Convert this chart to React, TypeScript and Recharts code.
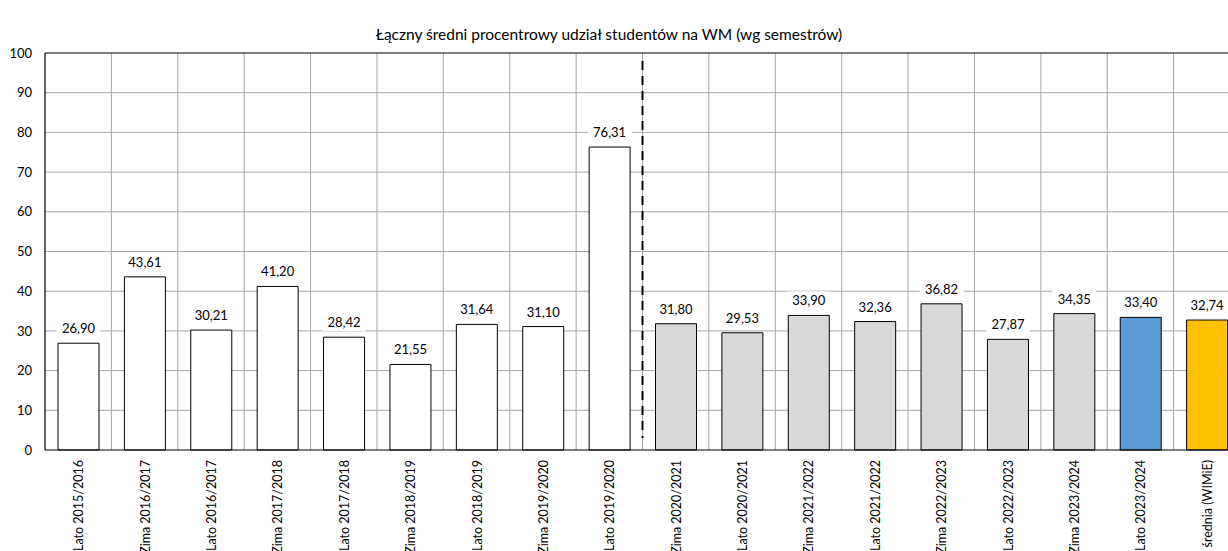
import React from "react";
import {
  BarChart,
  Bar,
  XAxis,
  YAxis,
  CartesianGrid,
  ReferenceLine,
  LabelList,
  Cell,
} from "recharts";

const categories = [
  "Lato 2015/2016",
  "Zima 2016/2017",
  "Lato 2016/2017",
  "Zima 2017/2018",
  "Lato 2017/2018",
  "Zima 2018/2019",
  "Lato 2018/2019",
  "Zima 2019/2020",
  "Lato 2019/2020",
  "Zima 2020/2021",
  "Lato 2020/2021",
  "Zima 2021/2022",
  "Lato 2021/2022",
  "Zima 2022/2023",
  "Lato 2022/2023",
  "Zima 2023/2024",
  "Lato 2023/2024",
  "średnia (WIMiE)",
];

const values = [
  26.9, 43.61, 30.21, 41.2, 28.42, 21.55, 31.64, 31.1, 76.31, 31.8, 29.53,
  33.9, 32.36, 36.82, 27.87, 34.35, 33.4, 32.74,
];

// which period each bar belongs to
const groups = [
  "before", "before", "before", "before", "before", "before", "before", "before", "before",
  "after", "after", "after", "after", "after", "after", "after",
  "current",
  "average",
];

const yTicks = [0, 10, 20, 30, 40, 50, 60, 70, 80, 90, 100];
// first semester after the split (dashed line drawn at the start of its band)
const splitCategory = "Zima 2020/2021";

const groupColors: Record<string, string> = {
  before: "#FFFFFF",
  after: "#D9D9D9",
  current: "#5B9BD5",
  average: "#FFC000",
};

const FONT = "Lato, 'Open Sans', sans-serif";

const data = categories.map((name, i) => ({ name, value: values[i] }));

const fmt = (v: number) => v.toFixed(2).replace(".", ",");

function XTick(props: any) {
  const { x, payload } = props;
  return (
    <g transform={`translate(${x + 1},${460})`}>
      <text
        transform="rotate(-90)"
        textAnchor="end"
        dy={4}
        fontSize={12.5}
        fontFamily={FONT}
        fill="#000"
      >
        {payload.value}
      </text>
    </g>
  );
}

function BarLabel(props: any) {
  const { x, y, width, value } = props;
  const cx = x + width / 2;
  const cy = y - 15;
  const txt = fmt(value);
  const w = txt.length * 7.2 + 8;
  return (
    <g>
      <rect x={cx - w / 2} y={cy - 9} width={w} height={18} fill="#fff" />
      <text
        x={cx}
        y={cy}
        textAnchor="middle"
        dominantBaseline="central"
        fontSize={13}
        fontFamily={FONT}
        fill="#000"
      >
        {txt}
      </text>
    </g>
  );
}

export default function App() {
  return (
    <div
      style={{
        position: "fixed",
        left: 0,
        top: 0,
        width: 1228,
        height: 551,
        overflow: "hidden",
        background: "#fff",
      }}
    >
      <div
        style={{
          position: "absolute",
          top: 25,
          left: 0,
          width: 1218,
          textAlign: "center",
          fontFamily: FONT,
          fontSize: 15.5,
          color: "#000",
        }}
      >
        Łączny średni procentrowy udział studentów na WM (wg semestrów)
      </div>
      <BarChart
        width={1260}
        height={551}
        data={data}
        margin={{ top: 53, right: 20, left: 0, bottom: 0 }}
        barSize={41}
      >
        <CartesianGrid
          stroke="#A6A6A6"
          strokeWidth={1}
          horizontalValues={yTicks.filter((t) => t > 0 && t < 100)}
          verticalCoordinatesGenerator={({ offset }: any) =>
            categories.map((_, i) => offset.left + (i * offset.width) / categories.length).slice(1)
          }
        />
        <XAxis
          dataKey="name"
          interval={0}
          tickLine={false}
          axisLine={{ stroke: "#000", strokeWidth: 1.2 }}
          height={101}
          tick={<XTick />}
        />
        <YAxis
          domain={[0, 100]}
          ticks={yTicks}
          interval={0}
          tickLine={false}
          axisLine={{ stroke: "#000", strokeWidth: 1.2 }}
          width={45}
          tickMargin={7}
          tick={{ fontSize: 13, fontFamily: FONT, fill: "#000" }}
        />
        <ReferenceLine y={100} stroke="#000" strokeWidth={1.2} />
        <ReferenceLine
          position="start"
          stroke="#000"
          strokeWidth={2}
          strokeDasharray="9 6"
          segment={[
            { x: splitCategory, y: 98 },
            { x: splitCategory, y: 3 },
          ]}
        />
        <Bar dataKey="value" stroke="#000" strokeWidth={1} isAnimationActive={false}>
          {data.map((d, i) => (
            <Cell key={d.name} fill={groupColors[groups[i]]} />
          ))}
          <LabelList dataKey="value" content={<BarLabel />} />
        </Bar>
      </BarChart>
    </div>
  );
}
